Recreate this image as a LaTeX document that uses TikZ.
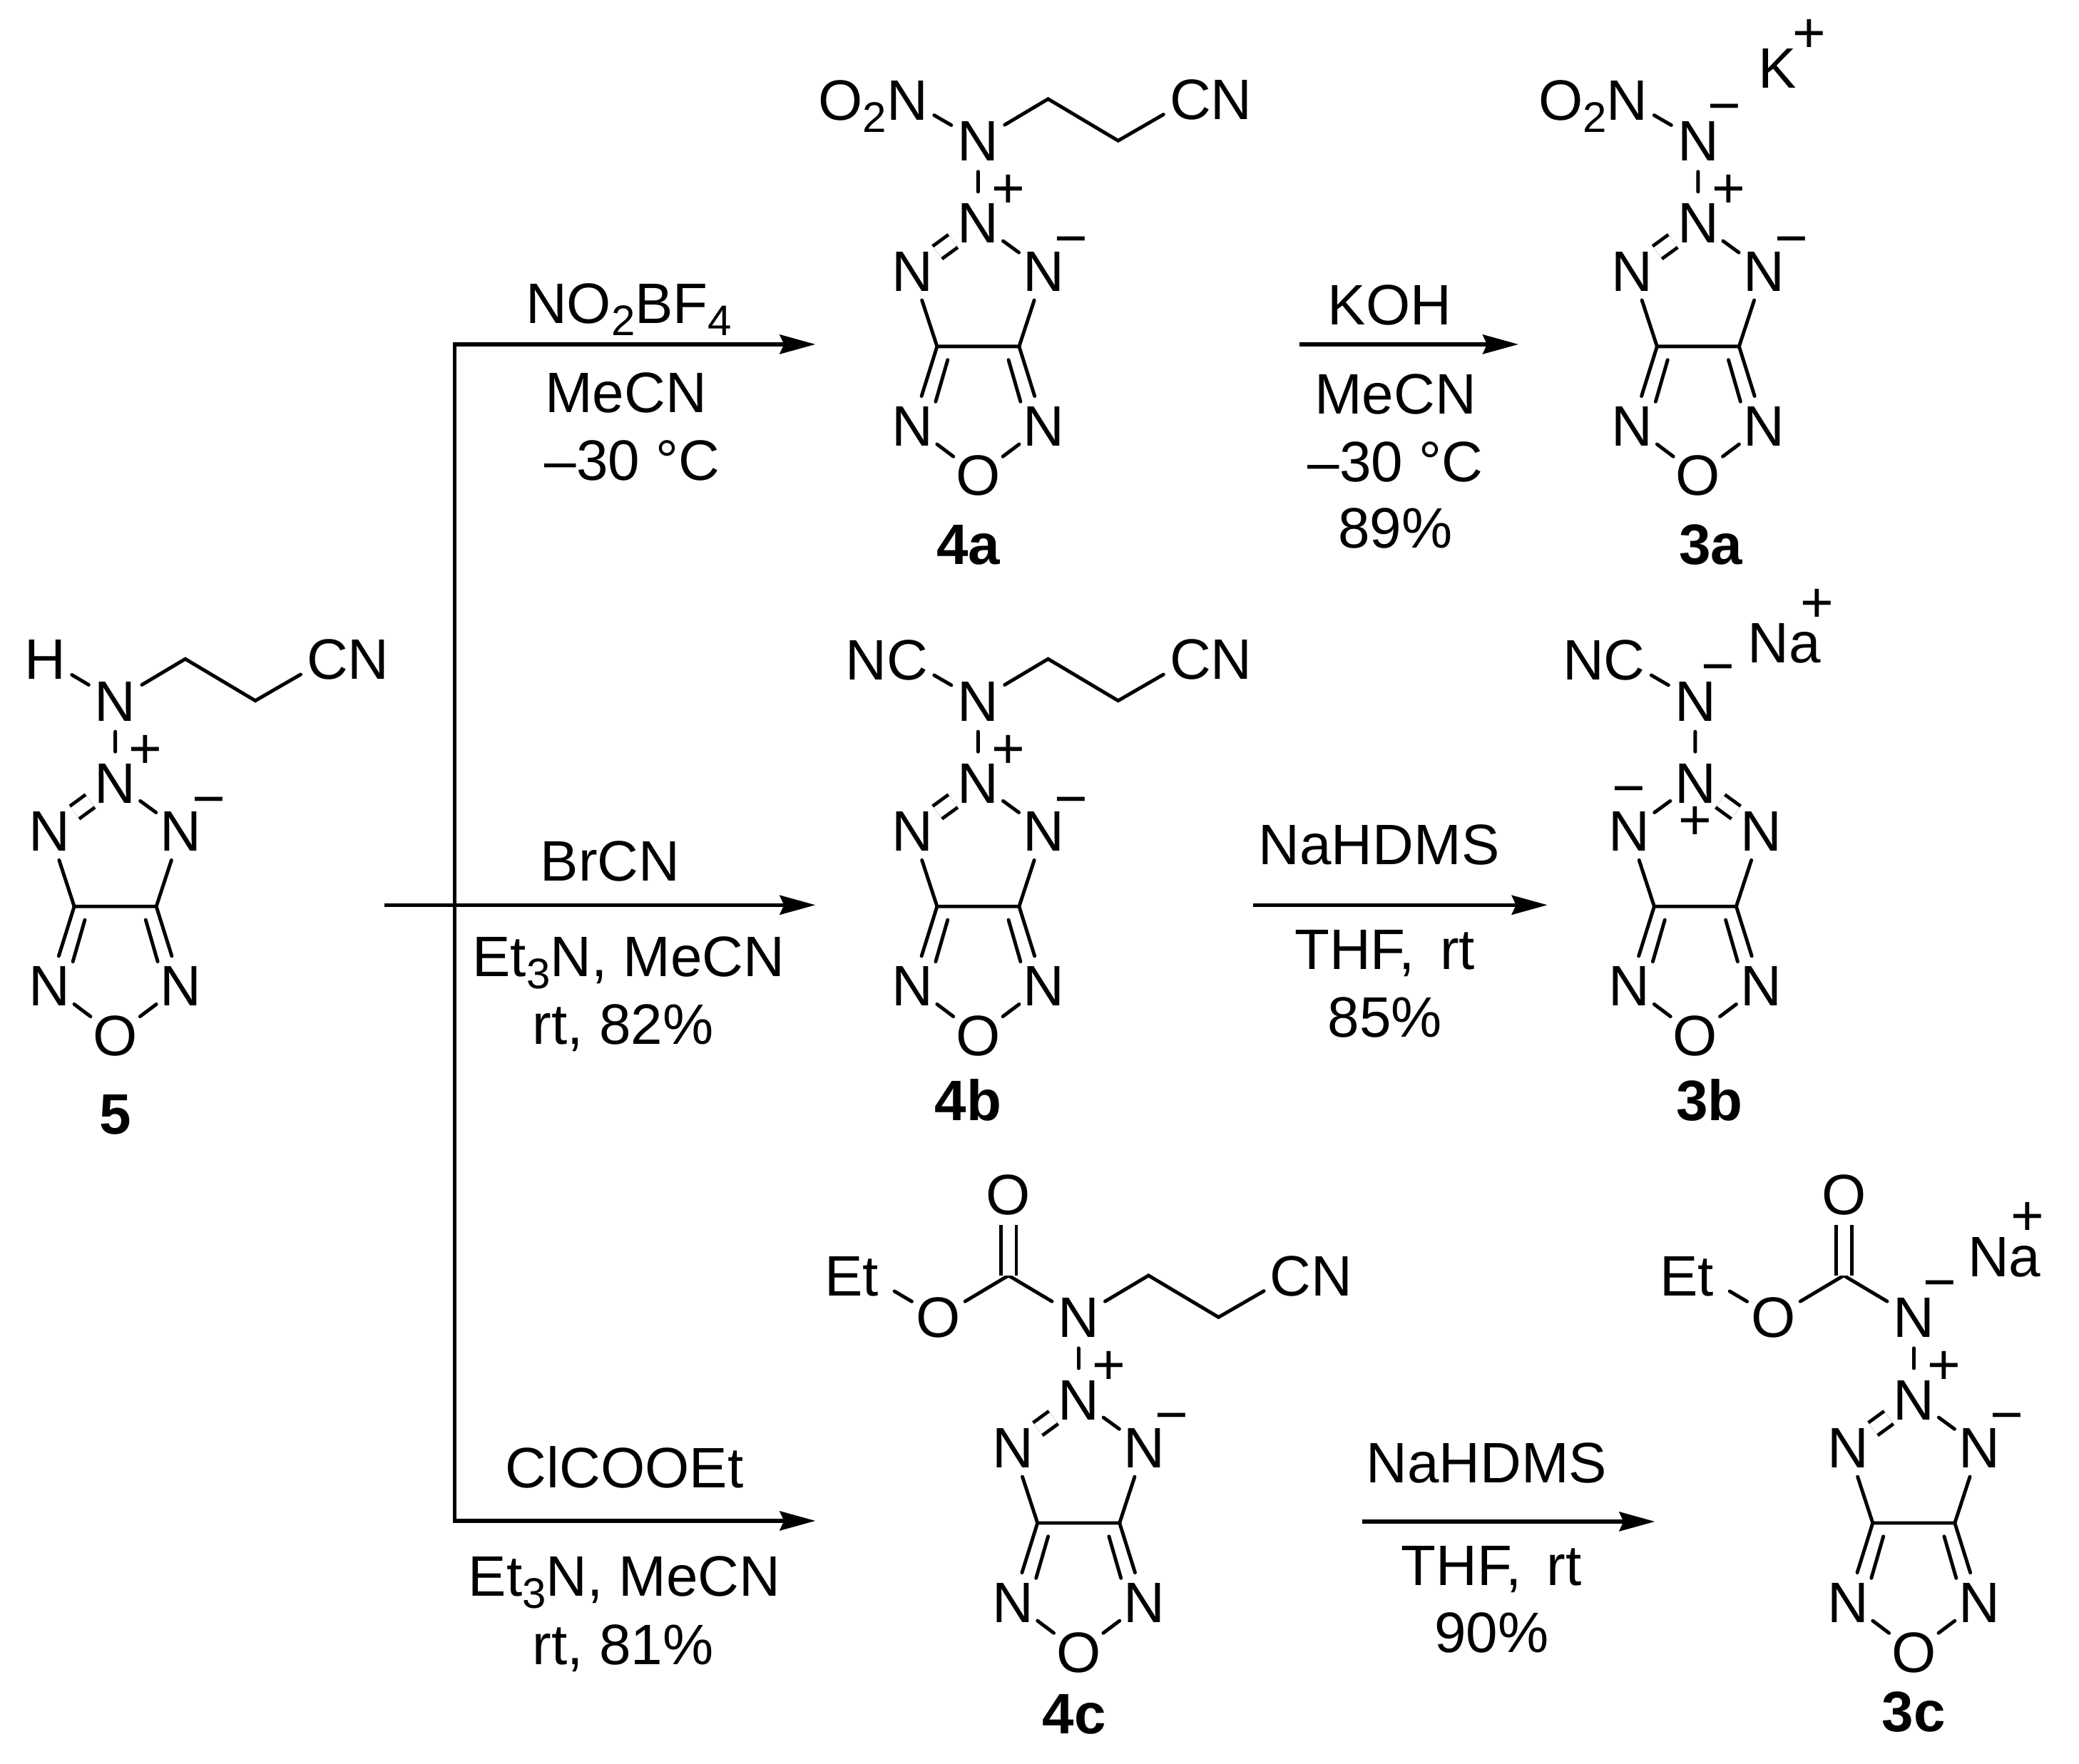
\documentclass[tikz,border=0pt]{standalone}
\usepackage{fontspec}
\setmainfont{Liberation Sans}
\usetikzlibrary{arrows.meta}
\tikzset{
    bond/.style={line width=2.45pt, line cap=round},
    dbond/.style={line width=2.45pt, double, double distance=8.5pt, line cap=butt},
    rxn/.style={line width=2.6pt, -{Stealth[length=25pt,width=13.5pt,inset=3pt]}},
    atom/.style={circle, inner sep=0pt, minimum size=43pt, text height=28.6pt, text depth=0pt, font=\fontsize{40}{42}\selectfont},
    chg/.style={inner sep=0pt, font=\fontsize{40}{42}\selectfont},
    reagent/.style={inner sep=0pt, text height=28.6pt, text depth=0pt, font=\fontsize{40}{42}\selectfont},
    cpd/.style={inner sep=0pt, text height=28.6pt, text depth=0pt, font=\fontsize{40}{42}\selectfont\bfseries},
}
\newcommand{\lowidx}[1]{\raisebox{-8.5pt}{\fontsize{30}{30}\selectfont #1}}
\newcommand{\ringcore}[1]{%
    \node[atom] (#1t) at (0,0) {N};
    \node[atom] (#1l) at (-93,68) {N};
    \node[atom] (#1r) at (93,68) {N};
    \coordinate (#1cl) at (-58,175);
    \coordinate (#1cr) at (58,175);
    \node[atom] (#1bl) at (-93,287) {N};
    \node[atom] (#1br) at (93,287) {N};
    \node[atom] (#1o) at (0,357) {O};
    \coordinate (#1il) at (-43,194);
    \coordinate (#1jl) at (-60,253);
    \coordinate (#1ir) at (43,194);
    \coordinate (#1jr) at (60,253);
    \draw[bond] (#1l) -- (#1cl) -- (#1cr) -- (#1r);
    \draw[bond] (#1cl) -- (#1bl) -- (#1o) -- (#1br) -- (#1cr);
    \draw[bond] (#1il) -- (#1jl);
    \draw[bond] (#1ir) -- (#1jr);
}
\newcommand{\ringcharges}[1]{%
    \draw[dbond] (#1t) -- (#1l);
    \draw[bond] (#1t) -- (#1r);
    \node[chg] (#1pl) at (43,-44) {+};
    \node[chg] (#1mi) at (132,35) {−};
}
\newcommand{\cyanotail}[1]{%
    \coordinate (#1ca) at (99,-175);
    \coordinate (#1cb) at (198,-116);
    \node[atom] (#1cn) at (300,-175) {C\rlap{N}};
    \draw[bond] (#1n) -- (#1ca) -- (#1cb) -- (#1cn);
}
\newcommand{\carbamate}[1]{%
    \coordinate (#1cc) at (-99,-175);
    \node[atom] (#1oa) at (-99,-290) {O};
    \node[atom] (#1ob) at (-198,-116) {O};
    \node[atom] (#1et) at (-298,-175) {\llap{E}t\kern-4pt};
    \draw[bond] (#1n) -- (#1cc) -- (#1ob) -- (#1et);
    \draw[dbond] (#1cc) -- (#1oa);
}
\begin{document}
\begin{tikzpicture}[x=0.4958pt,y=-0.4958pt]
\useasboundingbox (0pt,0pt) rectangle (1457.5pt,-1236.5pt);

\begin{scope}[shift={(163,1107)}]
\ringcore{mf}
\ringcharges{mf}
\node[atom] (mfn) at (0,-116) {N};
\node[atom] (mfh) at (-99,-175) {H};
\draw[bond] (mft) -- (mfn) -- (mfh);
\cyanotail{mf}
\end{scope}

\begin{scope}[shift={(1383,315)}]
\ringcore{fa}
\ringcharges{fa}
\node[atom] (fan) at (0,-116) {N};
\node[atom] (fax) at (-100,-174) {\llap{O\lowidx{2}}N};
\draw[bond] (fat) -- (fan) -- (fax);
\cyanotail{fa}
\end{scope}

\begin{scope}[shift={(2401,315)}]
\ringcore{ta}
\ringcharges{ta}
\node[atom] (tan) at (0,-116) {N};
\node[atom] (tax) at (-100,-174) {\llap{O\lowidx{2}}N};
\draw[bond] (tat) -- (tan) -- (tax);
\node[chg] (tam) at (37,-153) {−};
\node[chg] (tak) at (112,-218) {K};
\node[chg] (tap) at (157,-264) {+};
\end{scope}

\begin{scope}[shift={(1383,1107)}]
\ringcore{fb}
\ringcharges{fb}
\node[atom] (fbn) at (0,-116) {N};
\node[atom] (fbx) at (-100,-174) {\llap{N}C};
\draw[bond] (fbt) -- (fbn) -- (fbx);
\cyanotail{fb}
\end{scope}

\begin{scope}[shift={(2397,1107)}]
\ringcore{tb}
\draw[bond] (tbt) -- (tbl);
\draw[dbond] (tbt) -- (tbr);
\node[chg] (tbmi) at (-94,20) {−};
\node[chg] (tbpl) at (0,57) {+};
\node[atom] (tbn) at (0,-116) {N};
\node[atom] (tbx) at (-100,-174) {\llap{N}C};
\draw[bond] (tbt) -- (tbn) -- (tbx);
\node[chg] (tbm) at (32,-152) {−};
\node[chg] (tbk) at (126,-197) {Na};
\node[chg] (tbp) at (172,-250) {+};
\end{scope}

\begin{scope}[shift={(1525,1979)}]
\ringcore{fc}
\ringcharges{fc}
\node[atom] (fcn) at (0,-116) {N};
\draw[bond] (fct) -- (fcn);
\carbamate{fc}
\cyanotail{fc}
\end{scope}

\begin{scope}[shift={(2706,1979)}]
\ringcore{tc}
\ringcharges{tc}
\node[atom] (tcn) at (0,-116) {N};
\draw[bond] (tct) -- (tcn);
\carbamate{tc}
\node[chg] (tcm) at (37,-153) {−};
\node[chg] (tck) at (128,-201) {Na};
\node[chg] (tcp) at (161,-255) {+};
\end{scope}

\coordinate (st) at (544,1280);
\coordinate (br) at (643,1280);
\coordinate (bt) at (643,487);
\coordinate (bb) at (643,2151);
\coordinate (ea) at (1153,487);
\coordinate (eb) at (1153,1280);
\coordinate (ec) at (1153,2151);
\draw[rxn] (st) -- (eb);
\draw[rxn] (br) -- (bt) -- (ea);
\draw[rxn] (br) -- (bb) -- (ec);
\coordinate (sa) at (1837,487);
\coordinate (fa2) at (2147,487);
\coordinate (sb) at (1772,1280);
\coordinate (fb2) at (2188,1280);
\coordinate (sc) at (1926,2152);
\coordinate (fc2) at (2340,2152);
\draw[rxn] (sa) -- (fa2);
\draw[rxn] (sb) -- (fb2);
\draw[rxn] (sc) -- (fc2);

\node[reagent] (ra1) at (889,428) {NO\lowidx{2}BF\lowidx{4}};
\node[reagent] (ra2) at (885,555) {MeCN};
\node[reagent] (ra3) at (894,650) {–30 °C};
\node[reagent] (rb1) at (863,1217) {BrCN};
\node[reagent] (rb2) at (889,1352) {Et\lowidx{3}N, MeCN};
\node[reagent] (rb3) at (881,1448) {rt, 82\%};
\node[reagent] (rc1) at (883,2075) {ClCOOEt};
\node[reagent] (rc2) at (883,2229) {Et\lowidx{3}N, MeCN};
\node[reagent] (rc3) at (881,2325) {rt, 81\%};
\node[reagent] (ka1) at (1965,431) {KOH};
\node[reagent] (ka2) at (1973,557) {MeCN};
\node[reagent] (ka3) at (1973,652) {–30 °C};
\node[reagent] (ka4) at (1973,746) {89\%};
\node[reagent] (kb1) at (1950,1194) {NaHDMS};
\node[reagent] (kb2) at (1958,1342) {THF,\hspace{.44em}rt};
\node[reagent] (kb3) at (1958,1438) {85\%};
\node[reagent] (kc1) at (2102,2068) {NaHDMS};
\node[reagent] (kc2) at (2109,2213) {THF,\hspace{.44em}rt};
\node[reagent] (kc3) at (2109,2308) {90\%};

\node[cpd] (n5) at (163,1575) {5};
\node[cpd] (n4a) at (1369,769) {4a};
\node[cpd] (n3a) at (2419,769) {3a};
\node[cpd] (n4b) at (1369,1556) {4b};
\node[cpd] (n3b) at (2417,1556) {3b};
\node[cpd] (n4c) at (1519,2423) {4c};
\node[cpd] (n3c) at (2706,2420) {3c};
\end{tikzpicture}
\end{document}
